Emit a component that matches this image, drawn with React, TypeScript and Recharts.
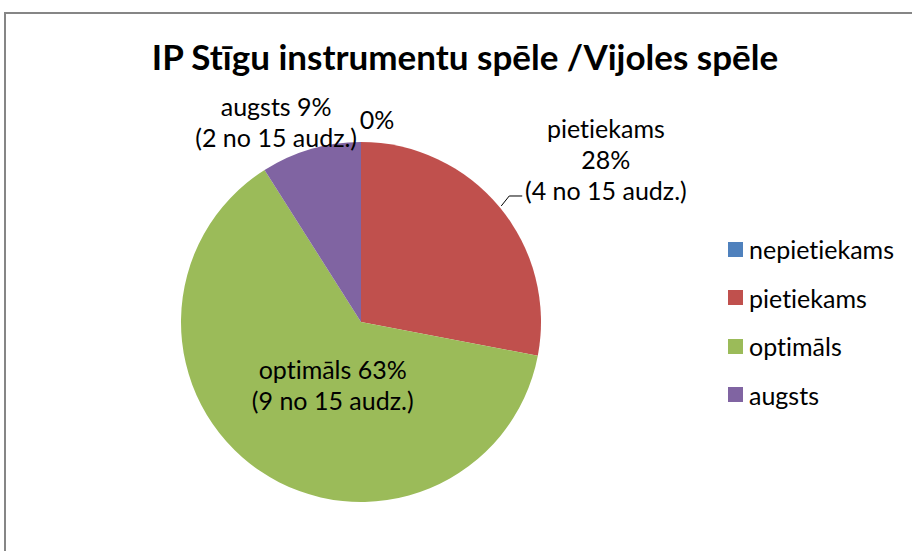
import { PieChart, Pie, Cell, Legend } from 'recharts';

const categories = ['nepietiekams', 'pietiekams', 'optimāls', 'augsts'];
const shares = [0, 28, 63, 9];
const pupilCounts = [0, 4, 9, 2];
const totalPupils = 15;
const colors = ['#4F81BD', '#C0504D', '#9BBB59', '#8064A2'];

const chartData = categories.map((name, i) => ({
  name,
  value: shares[i],
  count: pupilCounts[i],
  color: colors[i],
}));

// label placement: radius from centre and angle shift from slice middle
const labelLayout = [
  { r: 204, shift: -4.5 },
  { r: 294, shift: -6 },
  { r: 69, shift: 10 },
  { r: 218, shift: 6.7 },
];

const RAD = Math.PI / 180;
const FONT = 'Lato, "Open Sans", sans-serif';

function renderLabel(props: any) {
  const { cx, cy, midAngle, outerRadius, index } = props;
  const d = chartData[index];
  const lay = labelLayout[index];
  const a = (midAngle + lay.shift) * RAD;
  const x = cx + lay.r * Math.cos(a);
  const y = cy - lay.r * Math.sin(a);
  const lh = 31;
  let lines: string[];
  if (index === 0) lines = [`${d.value}%`];
  else if (index === 1) lines = [d.name, `${d.value}%`, `(${d.count} no ${totalPupils} audz.)`];
  else lines = [`${d.name} ${d.value}%`, `(${d.count} no ${totalPupils} audz.)`];
  const y0 = y - ((lines.length - 1) * lh) / 2;

  let leader = null;
  if (index === 1) {
    const ea = midAngle * RAD;
    const ex = cx + (outerRadius + 2) * Math.cos(ea);
    const ey = cy - (outerRadius + 2) * Math.sin(ea);
    leader = (
      <path
        d={`M${ex},${ey} L${ex + 8},${ey - 10} L${ex + 21},${ey - 10}`}
        stroke="#000"
        strokeWidth={1}
        fill="none"
      />
    );
  }

  return (
    <g key={`lbl-${index}`}>
      {leader}
      <text
        x={x}
        y={y0}
        textAnchor="middle"
        dominantBaseline="central"
        fill="#000"
        fontFamily={FONT}
        fontSize={25}
        style={{ fontVariantLigatures: 'none' }}
      >
        {lines.map((t, i) => (
          <tspan key={i} x={x} y={y0 + i * lh} dominantBaseline="central">
            {t}
          </tspan>
        ))}
      </text>
    </g>
  );
}

function CustomLegend() {
  return (
    <div style={{ display: 'flex', flexDirection: 'column', gap: 0 }}>
      {chartData.map((d) => (
        <div
          key={d.name}
          style={{ display: 'flex', alignItems: 'center', height: 48.5 }}
        >
          <div style={{ width: 15, height: 15, backgroundColor: d.color, marginRight: 6 }} />
          <span style={{ fontFamily: FONT, fontSize: 25, color: '#000', fontVariantLigatures: 'none' }}>{d.name}</span>
        </div>
      ))}
    </div>
  );
}

export default function App() {
  return (
    <div style={{ position: 'absolute', left: 0, top: 0, width: 912, height: 551, background: '#fff', overflow: 'hidden' }}>
      <div
        style={{
          position: 'absolute',
          left: 4,
          top: 12,
          width: 1000,
          height: 1000,
          borderLeft: '2px solid #868686',
          borderTop: '2px solid #868686',
        }}
      />
      <div
        style={{
          position: 'absolute',
          left: 0,
          top: 35,
          width: 930,
          textAlign: 'center',
          fontFamily: FONT,
          fontWeight: 700,
          fontSize: 35,
          color: '#000',
          fontVariantLigatures: 'none',
        }}
      >
        IP Stīgu instrumentu spēle /Vijoles spēle
      </div>
      <div style={{ position: 'absolute', left: 0, top: 0 }}>
        <PieChart width={912} height={551} margin={{ top: 0, right: 0, bottom: 0, left: 0 }}>
          <Pie
            data={chartData}
            dataKey="value"
            nameKey="name"
            cx={361}
            cy={322}
            outerRadius={180}
            startAngle={90}
            endAngle={-270}
            labelLine={false}
            label={renderLabel}
            isAnimationActive={false}
          >
            {chartData.map((entry, index) => (
              <Cell key={`cell-${index}`} fill={entry.color} stroke="none" />
            ))}
          </Pie>
          <Legend
            layout="vertical"
            verticalAlign="top"
            align="right"
            content={<CustomLegend />}
            wrapperStyle={{ left: 728, top: 225, width: 184 }}
          />
        </PieChart>
      </div>
    </div>
  );
}
